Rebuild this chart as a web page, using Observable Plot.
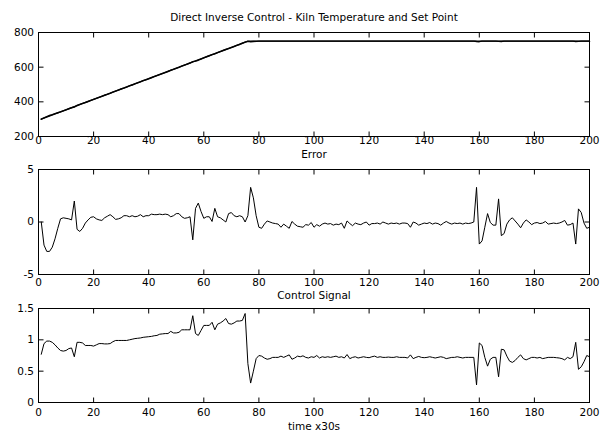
<!DOCTYPE html>
<html><head><meta charset="utf-8">
<script src="https://cdn.jsdelivr.net/npm/d3@7"></script>
<script src="https://cdn.jsdelivr.net/npm/@observablehq/plot@0.6"></script>
<style>
body{margin:0;background:#fff;}
#wrap{position:relative;width:600px;height:443px;background:#fff;overflow:hidden;}
#wrap svg{position:absolute;left:0;}
</style></head><body><div id="wrap"></div>
<script>
const mainTitle = "Direct Inverse Control - Kiln Temperature and Set Point";
const errorTitle = "Error";
const controlTitle = "Control Signal";
const xAxisLabel = "time x30s";

const xTicks = [0,20,40,60,80,100,120,140,160,180,200];
const tempTicks = [200,400,600,800];
const errorTicks = [-5,0,5];
const controlTicks = [0,0.5,1,1.5];

const setpointTime = [1,76,200];
const setpointValue = [300,750,750];

const temperature = [
 300,308,315,321,326,332,337,342,348,354,
 360,366,370,379,385,391,396,402,408,414,
 420,426,432,438,443,449,456,462,468,474,
 479,485,492,497,504,509,515,522,527,533,
 539,545,551,557,563,569,575,582,587,593,
 599,606,612,618,624,632,635,640,647,654,
 660,666,672,677,684,690,696,702,707,713,
 719,726,731,738,744,749,747,748,749,750,
 750,750,750,750,750,750,750,750,750,750,
 750,750,750,750,750,750,750,750,750,750,
 750,750,750,750,750,750,750,750,750,750,
 750,750,750,750,750,750,750,750,750,750,
 750,750,750,750,750,750,750,750,750,750,
 750,750,750,750,750,750,750,750,750,750,
 750,750,750,750,750,750,750,750,750,750,
 750,750,750,750,750,750,750,750,748,747,
 750,750,750,750,750,750,749,748,750,750,
 750,750,750,750,750,750,750,750,750,750,
 750,750,750,750,750,750,750,750,750,750,
 750,750,750,750,748,749,750,750,750,750
];

const errorSignal = [
 0,-2.2,-2.8,-2.8,-2.4,-1.6,-0.6,0.3,0.4,0.35,
 0.3,0.2,2.0,-0.7,-0.9,-0.6,-0.1,0.2,0.45,0.5,
 0.3,0.2,0.15,0.4,0.55,0.7,0.5,0.25,0.3,0.4,
 0.6,0.6,0.5,0.6,0.5,0.55,0.7,0.5,0.6,0.6,
 0.75,0.7,0.7,0.75,0.7,0.75,0.7,0.5,0.6,0.8,
 0.8,0.5,0.35,0.4,0.5,-1.7,1.3,1.8,1.0,0.35,
 0.5,0.5,0.05,1.3,0.5,0.4,0.2,0.0,0.8,0.9,
 0.6,0.5,0.6,0.5,0.0,0.6,3.3,2.3,0.6,-0.5,
 -0.6,-0.2,0.1,0.0,-0.1,-0.15,-0.2,-0.5,-0.2,-0.4,
 -0.6,0.05,-0.2,-0.4,-0.45,-0.5,-0.25,-0.3,-0.05,-0.5,
 -0.25,-0.4,-0.2,-0.1,-0.2,-0.15,-0.3,-0.2,-0.25,-0.1,
 -0.6,0.1,-0.15,-0.35,-0.1,-0.2,-0.25,-0.1,0.0,-0.3,
 -0.15,-0.15,-0.1,-0.2,0.0,-0.1,-0.2,-0.1,-0.15,-0.1,
 -0.2,-0.1,-0.1,-0.15,-0.5,0.0,-0.1,-0.3,-0.2,-0.1,
 -0.15,-0.05,-0.2,-0.1,-0.15,-0.3,-0.1,0.05,-0.1,-0.2,
 -0.1,-0.15,-0.1,-0.2,-0.1,-0.15,-0.1,0.0,3.3,-2.1,
 -1.8,-0.5,0.8,-0.05,-0.3,-0.3,2.2,-1.3,-1.1,-0.2,
 0.2,0.4,0.1,-0.2,-0.55,-0.1,0.2,0.0,-0.25,-0.1,
 -0.05,-0.15,-0.1,0.05,-0.2,-0.15,-0.1,-0.15,-0.1,0.0,
 0.15,-0.3,-0.25,-0.1,-2.1,1.25,0.9,-0.1,-0.6,-0.5
];

const controlSignal = [
 0.77,0.94,0.98,0.98,0.96,0.92,0.87,0.83,0.82,0.83,
 0.86,0.87,0.73,0.96,0.96,0.95,0.91,0.91,0.91,0.9,
 0.92,0.94,0.94,0.935,0.935,0.94,0.97,0.99,0.99,0.99,
 0.99,0.99,1.0,1.01,1.02,1.025,1.03,1.04,1.045,1.05,
 1.055,1.065,1.07,1.09,1.095,1.1,1.1,1.135,1.11,1.11,
 1.12,1.16,1.16,1.16,1.16,1.385,1.1,1.07,1.15,1.23,
 1.23,1.23,1.28,1.16,1.25,1.27,1.3,1.34,1.26,1.25,
 1.27,1.3,1.3,1.31,1.42,0.62,0.31,0.5,0.7,0.75,
 0.74,0.71,0.69,0.7,0.72,0.72,0.72,0.74,0.72,0.74,
 0.76,0.69,0.71,0.74,0.73,0.745,0.72,0.71,0.73,0.72,
 0.75,0.71,0.73,0.72,0.73,0.72,0.73,0.74,0.72,0.73,
 0.71,0.765,0.7,0.72,0.73,0.71,0.72,0.73,0.72,0.715,
 0.73,0.74,0.72,0.73,0.72,0.72,0.725,0.72,0.72,0.73,
 0.72,0.72,0.72,0.71,0.76,0.7,0.72,0.735,0.72,0.715,
 0.72,0.73,0.72,0.71,0.72,0.73,0.72,0.7,0.71,0.72,
 0.72,0.73,0.72,0.71,0.72,0.72,0.72,0.72,0.28,0.95,
 0.91,0.72,0.58,0.69,0.72,0.72,0.41,0.85,0.84,0.74,
 0.66,0.64,0.67,0.72,0.76,0.7,0.68,0.7,0.72,0.72,
 0.71,0.72,0.7,0.71,0.72,0.72,0.72,0.715,0.71,0.7,
 0.68,0.72,0.7,0.73,0.96,0.53,0.57,0.65,0.75,0.73
];

const font = "'DejaVu Sans', Verdana, sans-serif";
const fs = 10.5;
const wrap = document.getElementById("wrap");

function panel({top, height, mt, mb, yDomain, yTicks, xPad, marks, extra}) {
  const svg = Plot.plot({
    width: 600, height,
    marginLeft: 38, marginRight: 11, marginTop: mt, marginBottom: mb,
    style: {fontFamily: font, fontSize: fs + "px", color: "black", background: "transparent", overflow: "visible"},
    x: {domain: [0, 200]},
    y: {domain: yDomain},
    marks: [
      Plot.axisX(xTicks, {anchor: "bottom", tickSize: -4.5, tickFormat: () => "", label: null}),
      Plot.axisX(xTicks, {anchor: "top", tickSize: -4.5, tickFormat: () => "", label: null}),
      Plot.axisX(xTicks, {anchor: "bottom", tickSize: 0, tickPadding: xPad, tickFormat: d => String(d), label: null, fontSize: fs}),
      Plot.axisY(yTicks, {anchor: "left", tickSize: -5.5, tickFormat: () => "", label: null}),
      Plot.axisY(yTicks, {anchor: "right", tickSize: -5.5, tickFormat: () => "", label: null}),
      Plot.axisY(yTicks, {anchor: "left", tickSize: 0, tickPadding: 4.5, tickFormat: d => String(d), label: null, fontSize: fs}),
      ...marks,
      Plot.frame({stroke: "black", strokeWidth: 1}),
      ...extra
    ]
  });
  svg.style.top = top + "px";
  wrap.appendChild(svg);
}

const setpointRows = setpointTime.map((t, i) => ({t, v: setpointValue[i]}));

panel({
  top: 0, height: 150, mt: 32, mb: 14, yDomain: [200, 800], yTicks: tempTicks, xPad: 0.5,
  marks: [
    Plot.line(setpointRows, {x: "t", y: "v", stroke: "black", strokeWidth: 1.4}),
    Plot.line(temperature, {x: (d, i) => i + 1, y: d => d, stroke: "black", strokeWidth: 1.4})
  ],
  extra: [Plot.text([mainTitle], {frameAnchor: "top", dy: -18.5, lineAnchor: "top", fontSize: fs, fill: "black"})]
});

panel({
  top: 150, height: 140, mt: 19, mb: 16, yDomain: [-5, 5], yTicks: errorTicks, xPad: 4.5,
  marks: [
    Plot.line(errorSignal, {x: (d, i) => i + 1, y: d => d, stroke: "black", strokeWidth: 1})
  ],
  extra: [Plot.text([errorTitle], {frameAnchor: "top", dy: -18.5, lineAnchor: "top", fontSize: fs, fill: "black"})]
});

panel({
  top: 290, height: 153, mt: 18, mb: 41, yDomain: [0, 1.5], yTicks: controlTicks, xPad: 6,
  marks: [
    Plot.line(controlSignal, {x: (d, i) => i + 1, y: d => d, stroke: "black", strokeWidth: 1})
  ],
  extra: [
    Plot.text([controlTitle], {frameAnchor: "top", dy: -17, lineAnchor: "top", fontSize: fs, fill: "black"}),
    Plot.text([xAxisLabel], {frameAnchor: "bottom", dy: 20.5, lineAnchor: "top", fontSize: fs, fill: "black"})
  ]
});
</script></body></html>
